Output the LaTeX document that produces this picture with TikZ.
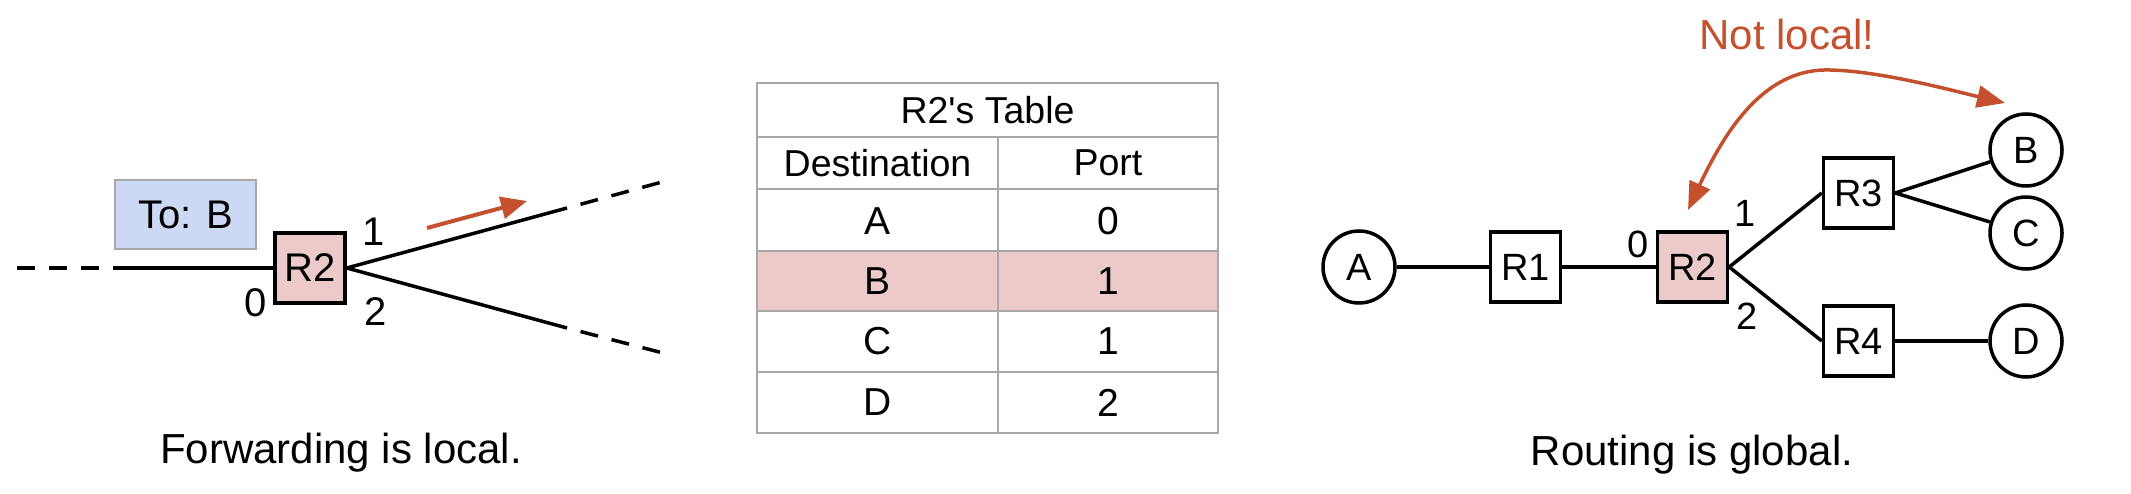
\documentclass[tikz,border=0pt]{standalone}
\usepackage{fontspec}
\setmainfont{Liberation Sans}[Ligatures=TeXOff]
\usetikzlibrary{arrows.meta}
\definecolor{rpink}{HTML}{ECCACA}
\definecolor{rblue}{HTML}{CDD9F4}
\definecolor{rred}{HTML}{C4502E}
\definecolor{tgrid}{HTML}{A8A8A8}
\begin{document}
\begin{tikzpicture}[x=1pt,y=-1pt,
  router/.style={draw=black,line width=3.5pt,minimum width=70pt,minimum height=70pt,inner sep=0pt,font=\fontsize{38}{40}\selectfont},
  host/.style={circle,draw=black,line width=3.5pt,minimum size=72pt,inner sep=0pt,font=\fontsize{38}{40}\selectfont},
  link/.style={line width=3.5pt},
  dashlink/.style={line width=3.5pt,dash pattern=on 18pt off 14pt},
  plabel/.style={inner sep=0pt,font=\fontsize{38}{40}\selectfont},
  caption/.style={inner sep=0pt,anchor=base,font=\fontsize{42}{44}\selectfont},
  cell/.style={inner sep=0pt,font=\fontsize{39}{41}\selectfont},
  hcell/.style={inner sep=0pt,font=\fontsize{37.5}{40}\selectfont},
  redarrow/.style={draw=rred,line width=4pt,-{Triangle[length=26pt,width=22pt]}},
  tgline/.style={draw=tgrid,line width=2.2pt}
]
\fill[white] (0,0) rectangle (2131,494);
\useasboundingbox (0,0) rectangle (2131,494);

% ---------- Left: forwarding ----------
\node[router,fill=rpink,font=\fontsize{40}{42}\selectfont] (LR2) at (310,268) {R2};
\coordinate (Lstart) at (17,268);
\coordinate (Lin) at (113,268);
\draw[dashlink] (Lstart) -- (Lin);
\draw[link] (Lin) -- (LR2.west);
\coordinate (U1) at (567,208);
\coordinate (U2) at (662,182);
\coordinate (D1) at (567,328);
\coordinate (D2) at (663,353);
\draw[link] (LR2.east) -- (U1);
\draw[link] (LR2.east) -- (D1);
\draw[dashlink,dash phase=18pt] (U1) -- (U2);
\draw[dashlink,dash phase=18pt] (D1) -- (D2);
\node[plabel,font=\fontsize{40}{42}\selectfont] (L0) at (256,303) {0};
\node[plabel,font=\fontsize{40}{42}\selectfont] (L1) at (374,232) {1};
\node[plabel,font=\fontsize{40}{42}\selectfont] (L2) at (376,312) {2};
\node[draw=tgrid,fill=rblue,line width=2pt,minimum width=141pt,minimum height=69pt,inner sep=0pt,font=\fontsize{40}{42}\selectfont] (pkt) at (185.5,214.5) {To: B};
\coordinate (ra) at (427,228);
\coordinate (rb) at (527,201);
\draw[redarrow] (ra) -- (rb);
\node[caption] (cap1) at (341,463) {Forwarding is local.};

% ---------- Middle: table ----------
\fill[rpink] (757,251) rectangle (1218,311);
\draw[tgline] (757,83) rectangle (1218,433);
\draw[tgline] (757,137) -- (1218,137);
\draw[tgline] (757,189) -- (1218,189);
\draw[tgline] (757,251) -- (1218,251);
\draw[tgline] (757,311) -- (1218,311);
\draw[tgline] (757,372) -- (1218,372);
\draw[tgline] (998,137) -- (998,433);
\node[hcell] (ttitle) at (987.5,110) {R2's Table};
\node[hcell] (thd) at (877.5,163) {Destination};
\node[hcell] (thp) at (1108,163) {Port};
\node[cell] (tA) at (877.5,221) {A};
\node[cell] (tA0) at (1108,221) {0};
\node[cell] (tB) at (877.5,281) {B};
\node[cell] (tB1) at (1108,281) {1};
\node[cell] (tC) at (877.5,341.5) {C};
\node[cell] (tC1) at (1108,341.5) {1};
\node[cell] (tD) at (877.5,402.5) {D};
\node[cell] (tD2) at (1108,402.5) {2};

% ---------- Right: routing ----------
\node[host] (A) at (1359,267) {A};
\node[router] (R1) at (1525.5,267) {R1};
\node[router,fill=rpink] (RR2) at (1692.5,267) {R2};
\node[router] (R3) at (1858.5,193) {R3};
\node[router] (R4) at (1858.5,341) {R4};
\node[host] (B) at (2026,150) {B};
\node[host] (C) at (2026,233) {C};
\node[host] (D) at (2026,341) {D};
\draw[link] (A) -- (R1);
\draw[link] (R1) -- (RR2);
\draw[link] (RR2.east) -- (R3.west);
\draw[link] (RR2.east) -- (R4.west);
\draw[link] (R3.east) -- (B);
\draw[link] (R3.east) -- (C);
\draw[link] (R4) -- (D);
\node[plabel] (P0) at (1638,244) {0};
\node[plabel] (P1) at (1745,213) {1};
\node[plabel] (P2) at (1747,316) {2};
\coordinate (nl1) at (1688,210);
\coordinate (nl2) at (2005,103);
\draw[draw=rred,line width=3.5pt,{Triangle[length=28pt,width=22pt]}-{Triangle[length=28pt,width=22pt]}]
  (nl1) .. controls (1730,120) and (1770,68) .. (1830,70) .. controls (1880,71) and (1950,90) .. (nl2);
\node[caption,text=rred] (notlocal) at (1787,50) {Not local!};
\node[caption] (cap2) at (1692,465) {Routing is global.};
\end{tikzpicture}
\end{document}
